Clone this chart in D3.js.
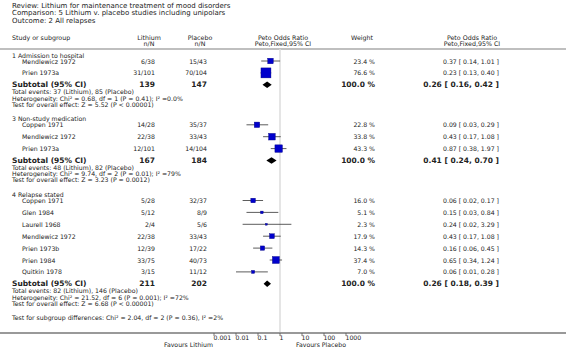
<!DOCTYPE html>
<html>
<head>
<meta charset="utf-8">
<script src="https://cdn.jsdelivr.net/npm/d3@7"></script>
<style>
  body { margin: 0; background: #fff; }
  svg { display: block; font-family: "DejaVu Sans", Verdana, sans-serif; }
</style>
</head>
<body>
<svg id="chart" width="566" height="357"></svg>
<script>
// forest plot - Peto odds ratios, lithium vs placebo

var titleLines = [
    "Review:  Lithium for maintenance treatment of mood disorders",
    "Comparison:  5 Lithium v. placebo studies including unipolars",
    "Outcome:  2 All relapses"
];

var groupLabels = ["1 Admission to hospital", "3 Non-study medication", "4 Relapse stated"];

var studyNames = ["Mendlewicz 1972", "Prien 1973a",
    "Coppen 1971", "Mendlewicz 1972", "Prien 1973a",
    "Coppen 1971", "Glen 1984", "Laurell  1968", "Mendlewicz 1972", "Prien 1973b", "Prien 1984", "Quitkin 1978"];
var studyGroup = [0, 0, 1, 1, 1, 2, 2, 2, 2, 2, 2, 2];
var lithEvents = [6, 31, 14, 22, 12, 5, 5, 2, 22, 12, 33, 3];
var lithTotal = [38, 101, 28, 38, 101, 28, 12, 4, 38, 39, 75, 15];
var placEvents = [15, 70, 35, 33, 14, 32, 8, 5, 33, 17, 40, 11];
var placTotal = [43, 104, 37, 43, 104, 37, 9, 6, 43, 22, 73, 12];
var weights = [23.4, 76.6, 22.8, 33.8, 43.3, 16.0, 5.1, 2.3, 17.9, 14.3, 37.4, 7.0];
var orEst = [0.37, 0.23, 0.09, 0.43, 0.87, 0.06, 0.15, 0.24, 0.43, 0.16, 0.65, 0.06];
var orLow = [0.14, 0.13, 0.03, 0.17, 0.38, 0.02, 0.03, 0.02, 0.17, 0.06, 0.34, 0.01];
var orHigh = [1.01, 0.40, 0.29, 1.08, 1.97, 0.17, 0.84, 3.29, 1.08, 0.45, 1.24, 0.28];

var subLithTotal = [139, 167, 211];
var subPlacTotal = [147, 184, 202];
var subOr = [0.26, 0.41, 0.26];
var subLow = [0.16, 0.24, 0.18];
var subHigh = [0.42, 0.70, 0.39];
var subEvents = [
    "Total events: 37 (Lithium), 85 (Placebo)",
    "Total events: 48 (Lithium), 82 (Placebo)",
    "Total events: 82 (Lithium), 146 (Placebo)"
];
var subHetero = [
    "Heterogeneity: Chi\u00b2 = 0.68, df = 1 (P = 0.41); I\u00b2 =0.0%",
    "Heterogeneity: Chi\u00b2 = 9.74, df = 2 (P = 0.01); I\u00b2 =79%",
    "Heterogeneity: Chi\u00b2 = 21.52, df = 6 (P = 0.001); I\u00b2 =72%"
];
var subOverall = [
    "Test for overall effect: Z = 5.52 (P < 0.00001)",
    "Test for overall effect: Z = 3.23 (P = 0.0012)",
    "Test for overall effect: Z = 6.68 (P < 0.00001)"
];
var subgroupDiff = "Test for subgroup differences: Chi\u00b2 = 2.04, df = 2 (P = 0.36), I\u00b2 =2%";

var axisTicks = [0.001, 0.01, 0.1, 1, 10, 100, 1000];
var favours = ["Favours Lithium", "Favours Placebo"];

var svg = d3.select('#chart');
var W = 566;

var fs = 6.2;       // normal text size
var fsHead = 6.3;   // column headers
var fsTitle = 7.0;
var fsBold = 7.5;   // subtotal rows
var textCol = "#222";

// columns
var colName = 12, colIndent = 22;
var colLith = 155, colPlac = 207, colWeight = 375, colRes = 499;

var x = d3.scaleLog().domain([0.001, 1000]).range([214, 346]);

// row layout
var rowH = 11.9;
var studyY = [], groupY = [], subY = [];
var yy = 55;
groupLabels.forEach(function (g, gi) {
    groupY.push(yy);
    yy += 6;
    studyGroup.forEach(function (sg, i) {
        if (sg === gi) { studyY[i] = yy; yy += rowH; }
    });
    subY.push(yy);
    yy += 34;
});
var diffY = subY[2] + 33.5;
var axisY = 333;

function txt(sel, xp, yp, s, opts) {
    opts = opts || {};
    return sel.append("text")
        .attr("x", xp).attr("y", yp)
        .attr("dominant-baseline", "central")
        .attr("text-anchor", opts.anchor || "start")
        .attr("font-size", opts.size || fs)
        .attr("font-weight", opts.bold ? "bold" : "normal")
        .attr("fill", opts.fill || textCol)
        .text(s);
}

// title block
var head = svg.append("g");
titleLines.forEach(function (t, i) {
    txt(head, colName, 5.6 + i * 7.6, t, { size: fsTitle });
});

// column headers
var hd = { anchor: "middle", size: fsHead };
txt(head, colName, 37, "Study or subgroup", { size: fsHead });
txt(head, 149, 37, "Lithium", hd);
txt(head, 149, 43.2, "n/N", hd);
txt(head, 200, 37, "Placebo", hd);
txt(head, 200, 43.2, "n/N", hd);
txt(head, 283, 37, "Peto Odds Ratio", hd);
txt(head, 283, 43.2, "Peto,Fixed,95% CI", hd);
txt(head, 362, 37, "Weight", hd);
txt(head, 472, 37, "Peto Odds Ratio", hd);
txt(head, 472, 43.2, "Peto,Fixed,95% CI", hd);

// header rule and the line of no effect
svg.append("line")
    .attr("x1", 0).attr("x2", W)
    .attr("y1", 49).attr("y2", 49)
    .attr("stroke", "#aaa").attr("stroke-width", 1.5);

svg.append("line")
    .attr("x1", x(1)).attr("x2", x(1))
    .attr("y1", 49).attr("y2", axisY)
    .attr("stroke", "#ddd").attr("stroke-width", 1.5);

// group labels + subtotals
var body = svg.append("g");
groupLabels.forEach(function (g, gi) {
    txt(body, colName, groupY[gi], g);
    var sy = subY[gi];
    txt(body, colName, sy, "Subtotal (95% CI)", { bold: true, size: fsBold });
    txt(body, colLith, sy, subLithTotal[gi], { bold: true, size: fsBold, anchor: "end" });
    txt(body, colPlac, sy, subPlacTotal[gi], { bold: true, size: fsBold, anchor: "end" });
    txt(body, colWeight, sy, "100.0 %", { bold: true, size: fsBold, anchor: "end" });
    txt(body, colRes, sy, subOr[gi].toFixed(2) + " [ " + subLow[gi].toFixed(2) + ", " + subHigh[gi].toFixed(2) + " ]",
        { bold: true, size: fsBold, anchor: "end" });
    txt(body, colName, sy + 7, subEvents[gi]);
    txt(body, colName, sy + 13.2, subHetero[gi]);
    txt(body, colName, sy + 19.4, subOverall[gi]);
});

// diamonds
body.selectAll("path.diamond")
    .data(subOr)
    .enter()
    .append("path")
    .attr("class", "diamond")
    .attr("d", function (d, i) {
        var yc = subY[i], h = 3.2;
        return "M" + x(subLow[i]) + "," + yc +
            "L" + x(d) + "," + (yc - h) +
            "L" + x(subHigh[i]) + "," + yc +
            "L" + x(d) + "," + (yc + h) + "Z";
    })
    .attr("fill", "#000");

// study rows
var fmt1 = d3.format(".1f"), fmt2 = d3.format(".2f");
studyNames.forEach(function (n, i) {
    var sy = studyY[i];
    txt(body, colIndent, sy, n);
    txt(body, colLith, sy, lithEvents[i] + "/" + lithTotal[i], { anchor: "end" });
    txt(body, colPlac, sy, placEvents[i] + "/" + placTotal[i], { anchor: "end" });
    txt(body, colWeight, sy, fmt1(weights[i]) + " %", { anchor: "end" });
    txt(body, colRes, sy, fmt2(orEst[i]) + " [ " + fmt2(orLow[i]) + ", " + fmt2(orHigh[i]) + " ]", { anchor: "end" });
});

body.selectAll("line.ci")
    .data(orEst)
    .enter()
    .append("line")
    .attr("class", "ci")
    .attr("x1", function (d, i) { return x(orLow[i]); })
    .attr("x2", function (d, i) { return x(orHigh[i]); })
    .attr("y1", function (d, i) { return studyY[i]; })
    .attr("y2", function (d, i) { return studyY[i]; })
    .attr("stroke", "#333")
    .attr("stroke-width", 0.8);

body.selectAll("rect.box")
    .data(orEst)
    .enter()
    .append("rect")
    .attr("class", "box")
    .attr("x", function (d, i) { return x(d) - 0.57 * Math.sqrt(weights[i]); })
    .attr("y", function (d, i) { return studyY[i] - 0.57 * Math.sqrt(weights[i]); })
    .attr("width", function (d, i) { return 1.14 * Math.sqrt(weights[i]); })
    .attr("height", function (d, i) { return 1.14 * Math.sqrt(weights[i]); })
    .attr("fill", "#0000cc")
    .attr("stroke", "#000080")
    .attr("stroke-width", 0.4);

txt(body, colName, diffY, subgroupDiff);

// axis
var axisG = svg.append("g").attr("transform", "translate(0," + axisY + ")");
axisG.append("line")
    .attr("x1", 0).attr("x2", W)
    .attr("stroke", "#999").attr("stroke-width", 2);
axisG.selectAll("line.tick")
    .data(axisTicks)
    .enter()
    .append("line")
    .attr("class", "tick")
    .attr("x1", function (d) { return x(d); })
    .attr("x2", function (d) { return x(d); })
    .attr("y1", 0).attr("y2", 3)
    .attr("stroke", "#555").attr("stroke-width", 0.8);
axisG.selectAll("text.tl")
    .data(axisTicks)
    .enter()
    .append("text")
    .attr("class", "tl")
    .attr("x", function (d) { return x(d) - 0.5; })
    .attr("y", 4.2)
    .attr("dominant-baseline", "central")
    .attr("text-anchor", "start")
    .attr("font-size", 6.2)
    .attr("fill", textCol)
    .text(function (d) { return d >= 1 ? d3.format("d")(d) : String(d); });

txt(axisG, x(0.001) - 1, 11.5, favours[0], { anchor: "end", size: 6.2 });
txt(axisG, x(1000), 11.5, favours[1], { anchor: "end", size: 6.2 });
</script>
</body>
</html>
